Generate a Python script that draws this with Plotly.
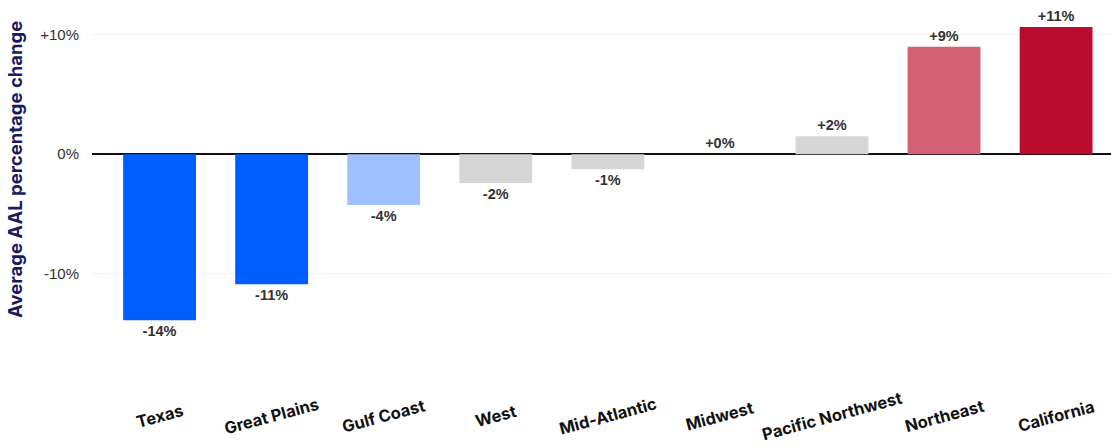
import plotly.graph_objects as go

regions = ["Texas", "Great Plains", "Gulf Coast", "West", "Mid-Atlantic",
           "Midwest", "Pacific Northwest", "Northeast", "California"]
values = [-13.9, -10.9, -4.25, -2.4, -1.25, 0.0, 1.5, 9.0, 10.65]
labels = ["-14%", "-11%", "-4%", "-2%", "-1%", "+0%", "+2%", "+9%", "+11%"]
colors = ["#005EFF", "#005EFF", "#A0C0FF", "#D6D6D6", "#D6D6D6",
          "#D6D6D6", "#D6D6D6", "#D46075", "#BA0C2F"]
ytick_vals = [-10, 0, 10]
ytick_text = ["-10%", "0%", "+10%"]

fig = go.Figure()
fig.add_trace(go.Bar(
    x=regions, y=values, text=[f"<b>{t}</b>" for t in labels], textposition="outside",
    marker=dict(color=colors, line=dict(width=0)),
    textfont=dict(family="Liberation Sans, Arial", size=14.5, color="#333333"),
    cliponaxis=False, width=0.65,
))

for r in regions:
    fig.add_annotation(x=r, y=-0.0593, xref="x", yref="paper", text=f"<b>{r}</b>",
                       showarrow=False, textangle=-15,
                       xanchor="center", yanchor="middle",
                       font=dict(family="Inter, Roboto", size=16.5, color="#111111"))

fig.add_annotation(x=-0.0756, y=-1.25, xref="paper", yref="y",
                   text="<b>Average AAL percentage change</b>", showarrow=False,
                   textangle=-90, xanchor="center", yanchor="middle",
                   font=dict(family="Inter, Roboto", size=18.5, color="#1B1A5E"))

fig.update_layout(
    width=1111, height=447,
    margin=dict(l=92, r=0, t=5, b=54),
    plot_bgcolor="white", paper_bgcolor="white",
    showlegend=False,
    xaxis=dict(showticklabels=False, showgrid=False, zeroline=False,
               showline=False, range=[-0.603, 8.49]),
    yaxis=dict(range=[-20, 12.5], tickvals=ytick_vals, ticktext=ytick_text,
               showgrid=True, gridcolor="#F3F3F3", gridwidth=1,
               zeroline=True, zerolinecolor="#111111", zerolinewidth=1.5,
               showline=False, ticklabelstandoff=12,
               tickfont=dict(family="Liberation Sans, Arial", size=15, color="#333333")),
)

fig.write_html("out.html")
